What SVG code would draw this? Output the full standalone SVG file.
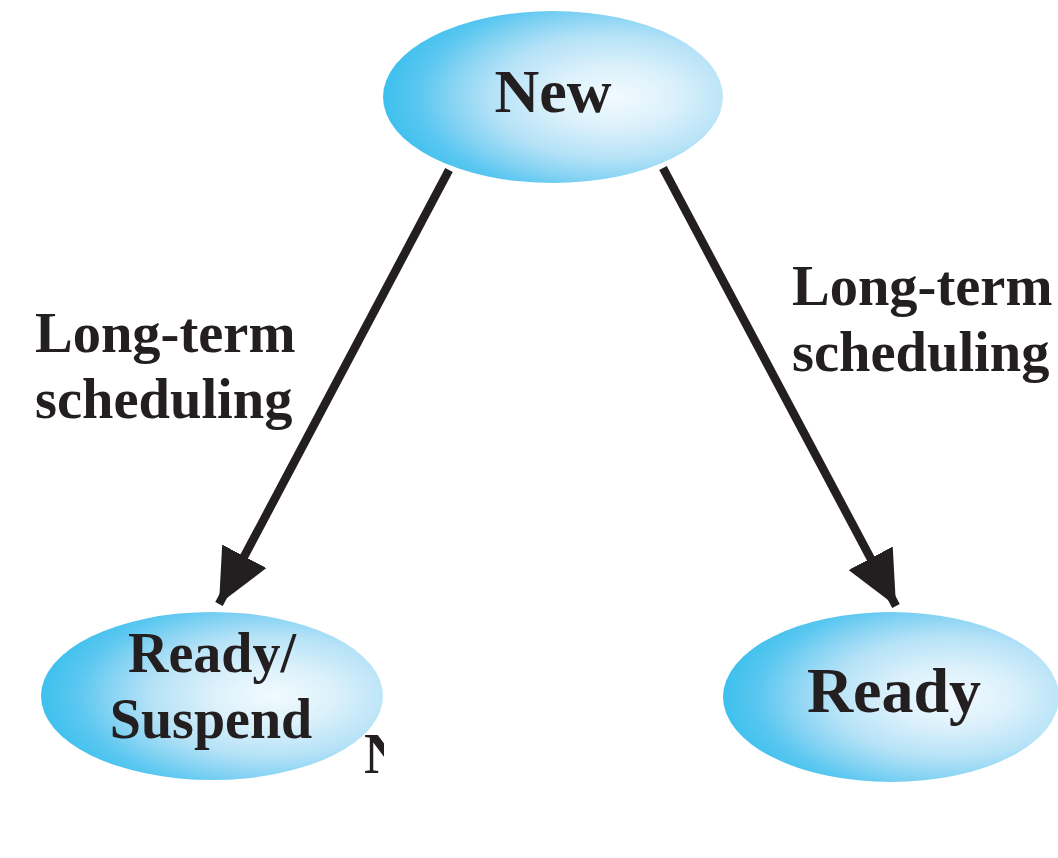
<svg xmlns="http://www.w3.org/2000/svg" width="1058" height="858" viewBox="0 0 1058 858">
<defs>
<radialGradient id="blob" cx="0.68" cy="0.5" r="0.8" fx="0.68" fy="0.5">
<stop offset="0" stop-color="#f1fafe"/>
<stop offset="0.22" stop-color="#dcf1fb"/>
<stop offset="0.45" stop-color="#b5e2f7"/>
<stop offset="0.6" stop-color="#86d3f3"/>
<stop offset="0.72" stop-color="#5ac7f0"/>
<stop offset="0.85" stop-color="#3ec0ee"/>
<stop offset="1" stop-color="#34bcee"/>
</radialGradient>
<marker id="arr" markerUnits="userSpaceOnUse" markerWidth="60" markerHeight="60" viewBox="0 0 60 60" refX="54" refY="30" orient="auto">
<path d="M0,5 L54,30 L0,55 Z" fill="#231f20"/>
</marker>
<clipPath id="clipN"><rect x="0" y="0" width="384" height="858"/></clipPath>
</defs>
<style>
.node{fill:url(#blob);}
.t{font-family:"Liberation Serif","Times New Roman",serif;font-weight:bold;fill:#231f20;text-anchor:middle;}
.lbl{font-family:"Liberation Serif","Times New Roman",serif;font-weight:bold;fill:#231f20;font-size:56.5px;}
.edge{stroke:#231f20;stroke-width:8.5;fill:none;marker-end:url(#arr);}
</style>
<rect width="1058" height="858" fill="#ffffff"/>
<g id="connectors">
<line class="edge" x1="449" y1="170" x2="219" y2="604"/>
<line class="edge" x1="663" y1="168" x2="896" y2="606"/>
</g>
<g id="node-new">
<ellipse class="node" cx="553" cy="97" rx="170" ry="86"/>
<text class="t" x="553" y="112" font-size="62">New</text>
</g>
<g id="node-ready-suspend">
<ellipse class="node" cx="212" cy="696" rx="171" ry="84"/>
<text class="t" x="212" y="672" font-size="56">Ready/</text>
<text class="t" x="211" y="738" font-size="56">Suspend</text>
</g>
<g id="node-ready">
<ellipse class="node" cx="891" cy="697" rx="168" ry="85"/>
<text class="t" x="894" y="712" font-size="64">Ready</text>
</g>
<g id="labels">
<text class="lbl" x="35" y="352">Long-term</text>
<text class="lbl" x="35" y="418">scheduling</text>
<text class="lbl" x="792" y="305">Long-term</text>
<text class="lbl" x="792" y="371">scheduling</text>
<text class="lbl" x="364" y="773" clip-path="url(#clipN)" font-size="58">N</text>
</g>
</svg>
